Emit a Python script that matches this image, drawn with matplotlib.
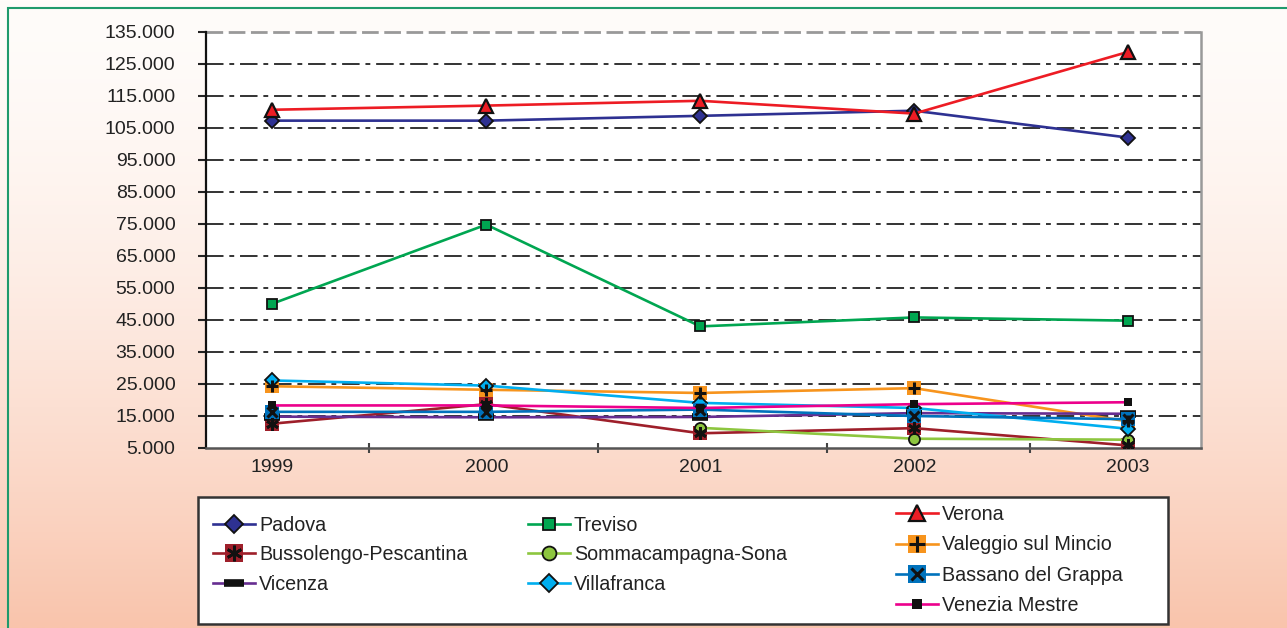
import numpy as np
import matplotlib
matplotlib.use("Agg")
import matplotlib.pyplot as plt
from matplotlib.legend_handler import HandlerTuple
from matplotlib.patches import Rectangle
from matplotlib.ticker import FuncFormatter, FixedLocator

plt.rcParams['font.family'] = ['Liberation Sans', 'DejaVu Sans']

years = ['1999', '2000', '2001', '2002', '2003']
padova = [107300, 107300, 108800, 110400, 102000]
treviso = [50100, 74800, 43000, 45800, 44800]
verona = [110700, 112000, 113500, 109500, 128800]
bussolengo = [12600, 18700, 9600, 11200, 5800]
sommacampagna = [np.nan, np.nan, 11300, 7900, 7600]
valeggio = [24300, 23200, 22200, 23700, 13300]
vicenza = [14800, 14600, 14700, 15900, 15700]
villafranca = [26100, 24500, 19100, 17500, 11000]
bassano = [16300, 16300, 17000, 15000, 14000]
venezia = [18300, 18300, 17500, 18700, 19300]

y_ticks = list(range(5000, 135001, 10000))

W, H = 1287, 628
fig = plt.figure(figsize=(W / 100, H / 100), dpi=100)

# background gradient
bg = fig.add_axes([0, 0, 1, 1], zorder=-10)
t = np.linspace(0, 1, 300)[:, None] ** 1.6
top = np.array([255, 252, 250]) / 255
bot = np.array([249, 196, 172]) / 255
grad = top[None, None, :] * (1 - t[..., None]) + bot[None, None, :] * t[..., None]
grad = np.repeat(grad, 2, axis=1)
bg.imshow(grad, aspect='auto', extent=[0, 1, 0, 1], origin='upper')
bg.set_xlim(0, 1); bg.set_ylim(0, 1)
bg.axis('off')
bg.add_patch(Rectangle((8 / W, -0.1), 1.2, 1 - 8 / H + 0.1, fill=False,
                       edgecolor='#1f9a6c', linewidth=1.5, transform=bg.transAxes))

ax = fig.add_axes([206 / W, 1 - 448 / H, (1201 - 206) / W, (448 - 32) / H])
ax.set_facecolor('white')
x = np.arange(len(years))

series = [
    ('Padova', padova, '#2e3192', dict(marker='D', ms=7, mfc='#2e3192', mec='#111', mew=1.3), None),
    ('Treviso', treviso, '#00a651', dict(marker='s', ms=7, mfc='#00a651', mec='#111', mew=1.3), None),
    ('Verona', verona, '#ed1c24', dict(marker='^', ms=9.5, mfc='#ed1c24', mec='#111', mew=1.6), None),
    ('Bussolengo-Pescantina', bussolengo, '#9e1f2a', dict(marker='s', ms=10, mfc='#9e1f2a', mec='#9e1f2a', mew=0),
     dict(marker=(6, 2, 0), ms=9, mec='#111', mew=2)),
    ('Sommacampagna-Sona', sommacampagna, '#8dc63f', dict(marker='o', ms=8, mfc='#8dc63f', mec='#111', mew=1.3), None),
    ('Valeggio sul Mincio', valeggio, '#f7941d', dict(marker='s', ms=10, mfc='#f7941d', mec='#f7941d', mew=0),
     dict(marker='+', ms=9, mec='#111', mew=2.2)),
    ('Vicenza', vicenza, '#662d91', dict(marker='_', ms=12, mec='#111', mew=5.5), None),
    ('Villafranca', villafranca, '#00aeef', dict(marker='D', ms=7, mfc='#00aeef', mec='#111', mew=1.3), None),
    ('Bassano del Grappa', bassano, '#0072bc', dict(marker='s', ms=10, mfc='#0072bc', mec='#0072bc', mew=0),
     dict(marker='x', ms=7, mec='#111', mew=2.2)),
    ('Venezia Mestre', venezia, '#ec008c', dict(marker='s', ms=5.5, mfc='#111', mec='#111', mew=0), None),
]

handles = {}
for name, vals, col, mk, over in series:
    ln, = ax.plot(x, vals, color=col, lw=1.9, zorder=3, **mk)
    if over is not None:
        ov, = ax.plot(x, vals, linestyle='none', zorder=4, **over)
        handles[name] = (ln, ov)
    else:
        handles[name] = ln

ax.set_xlim(-0.31, 4.34)
ax.set_ylim(5000, 135000)
ax.set_yticks(y_ticks)
ax.yaxis.set_major_formatter(FuncFormatter(lambda v, p: f"{int(v):,}".replace(',', '.')))
ax.set_xticks(x)
ax.set_xticklabels(years)
ax.xaxis.set_minor_locator(FixedLocator([0.45, 1.52, 2.59, 3.54]))
ax.tick_params(axis='x', which='major', length=0, pad=8, labelsize=14, labelcolor='#222')
ax.tick_params(axis='x', which='minor', length=7, width=1.5, direction='inout', color='#444')
ax.tick_params(axis='y', which='major', length=6, width=1.5, direction='out', color='#222',
               labelsize=14, labelcolor='#222', pad=16)

for yv in y_ticks[1:-1]:
    ax.axhline(yv, color='#333', lw=1.4, ls=(0, (9, 3, 2.5, 3)), zorder=1)
ax.axhline(135000, color='#999', lw=2, ls=(0, (6, 2)), zorder=1, clip_on=False)

ax.spines['left'].set_color('#111'); ax.spines['left'].set_linewidth(1.6)
ax.spines['bottom'].set_color('#555'); ax.spines['bottom'].set_linewidth(1.8)
ax.spines['top'].set_visible(False)
ax.spines['right'].set_color('#999'); ax.spines['right'].set_linewidth(1.8)

# legend box
fig.patches.append(Rectangle((198 / W, 1 - 624 / H), (1168 - 198) / W, (624 - 497) / H,
                             transform=fig.transFigure, facecolor='white', edgecolor='#333',
                             linewidth=1.8, zorder=1))

cols = [
    (['Padova', 'Bussolengo-Pescantina', 'Vicenza'], 213, 516, 0.52),
    (['Treviso', 'Sommacampagna-Sona', 'Villafranca'], 528, 516, 0.52),
    (['Verona', 'Valeggio sul Mincio', 'Bassano del Grappa', 'Venezia Mestre'], 896, 505, 0.58),
]
for names, lx, ly, ls in cols:
    leg = fig.legend([handles[n] for n in names], names, loc='upper left',
                     bbox_to_anchor=(lx / W, 1 - ly / H), frameon=False,
                     fontsize=14.2, handlelength=2.13, handletextpad=0.2,
                     labelspacing=ls, borderpad=0, borderaxespad=0, markerscale=1.25,
                     handler_map={tuple: HandlerTuple(ndivide=1, pad=0)})
    leg.set_zorder(5)
    for tx in leg.get_texts():
        tx.set_color('#222')

fig.savefig('out.png', dpi=100)
